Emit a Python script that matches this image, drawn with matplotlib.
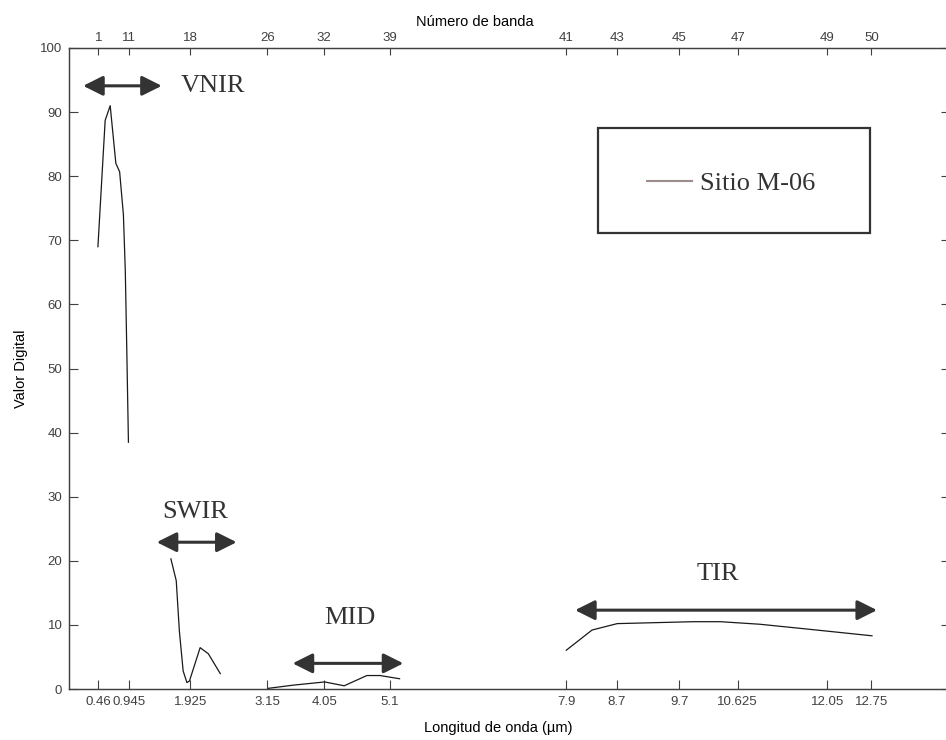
import matplotlib
matplotlib.use("Agg")
import matplotlib.pyplot as plt
from matplotlib.lines import Line2D
from matplotlib.patches import Rectangle

# band wavelengths (um) and band numbers used for the tick marks
tick_wl = [0.46, 0.945, 1.925, 3.15, 4.05, 5.1, 7.9, 8.7, 9.7, 10.625, 12.05, 12.75]
tick_wl_labels = ["0.46", "0.945", "1.925", "3.15", "4.05", "5.1", "7.9", "8.7", "9.7",
                  "10.625", "12.05", "12.75"]
band_labels = ["1", "11", "18", "26", "32", "39", "41", "43", "45", "47", "49", "50"]

# digital values of site M-06, one array per spectral region
vnir_wl = [0.455, 0.57, 0.65, 0.74, 0.80, 0.86, 0.89, 0.915, 0.94]
vnir_dn = [69.0, 88.7, 91.0, 82.0, 80.7, 74.0, 65.3, 52.3, 38.5]
swir_wl = [1.615, 1.70, 1.75, 1.81, 1.87, 1.91, 2.08, 2.21, 2.40]
swir_dn = [20.3, 16.9, 9.0, 2.8, 1.0, 1.25, 6.45, 5.5, 2.4]
mid_wl = [3.16, 3.56, 4.06, 4.37, 4.73, 4.94, 5.25]
mid_dn = [0.1, 0.6, 1.1, 0.5, 2.1, 2.1, 1.6]
tir_wl = [7.90, 8.31, 8.71, 9.92, 10.35, 10.98, 11.78, 12.76]
tir_dn = [6.05, 9.2, 10.2, 10.5, 10.5, 10.1, 9.3, 8.3]

# region labels: name, arrow start, arrow end, arrow height, text x, text y
regions = ["VNIR", "SWIR", "MID", "TIR"]
arrow_x0 = [0.22, 1.39, 3.55, 8.04]
arrow_x1 = [1.47, 2.66, 5.31, 12.84]
arrow_y = [94.1, 22.9, 4.0, 12.3]
label_x = [2.28, 2.0, 4.46, 10.31]
label_y = [94.0, 27.6, 11.1, 18.0]

plt.rcParams["font.family"] = ["Liberation Sans", "DejaVu Sans"]
serif = ["Liberation Serif", "DejaVu Serif"]
axc = "#404040"

fig = plt.figure(figsize=(9.46, 7.4), dpi=100)
ax = fig.add_axes([69.3 / 946, 51 / 740, 880.7 / 946, 641 / 740])

for wl, dn in [(vnir_wl, vnir_dn), (swir_wl, swir_dn), (mid_wl, mid_dn), (tir_wl, tir_dn)]:
    ax.plot(wl, dn, color="#1a1a1a", lw=0.9)

for name, x0, x1, ya, tx, ty in zip(regions, arrow_x0, arrow_x1, arrow_y, label_x, label_y):
    ax.annotate("", xy=(x1, ya), xytext=(x0, ya),
                arrowprops=dict(arrowstyle="<|-|>,head_length=1.2,head_width=0.6",
                                mutation_scale=10, lw=2.2, color="#333333",
                                shrinkA=0, shrinkB=0))
    ax.text(tx, ty, name, family=serif, fontsize=19, color="#333333", ha="center", va="center")

ax.set_xlim(0, 14)
ax.set_ylim(0, 100)
ax.set_xticks(tick_wl)
ax.set_xticklabels(tick_wl_labels)
ax.set_yticks(range(0, 101, 10))
ax.tick_params(axis="both", direction="in", length=6.5, width=0.8, colors=axc,
               labelsize=9.5, pad=5, right=True)
ax.set_xlabel("Longitud de onda (µm)", fontsize=10.5)
ax.xaxis.set_label_coords(0.487, -0.05)
ax.set_ylabel("Valor Digital", fontsize=10.5)
ax.yaxis.set_label_coords(-0.047, 0.5)

ax2 = ax.twiny()
ax2.set_xlim(ax.get_xlim())
ax2.set_xticks(tick_wl)
ax2.set_xticklabels(band_labels)
ax2.tick_params(axis="x", direction="in", length=5, width=0.8, colors=axc, labelsize=9.5, pad=3)
ax2.set_xlabel("Número de banda", fontsize=10.5)
ax2.xaxis.set_label_coords(0.46, 1.035)

for a in (ax, ax2):
    for s in a.spines.values():
        s.set_color(axc)
        s.set_linewidth(0.9)

# legend box drawn separately so its size matches the original
ax.add_patch(Rectangle((0.6003, 0.7114), 0.3089, 0.1638, transform=ax.transAxes,
                       facecolor="white", edgecolor="#333333", lw=1.6, zorder=4))
handle = Line2D([], [], color="#9c8c8c", lw=1.5)
leg = ax.legend([handle], ["Sitio M-06"], loc="center", bbox_to_anchor=(0.7519, 0.789),
                prop={"family": serif, "size": 19}, frameon=False, borderpad=0,
                handlelength=1.7, handletextpad=0.3, borderaxespad=0)
leg.set_zorder(5)
for t in leg.get_texts():
    t.set_color("#333333")

fig.savefig("out.png", dpi=100, facecolor="white")
